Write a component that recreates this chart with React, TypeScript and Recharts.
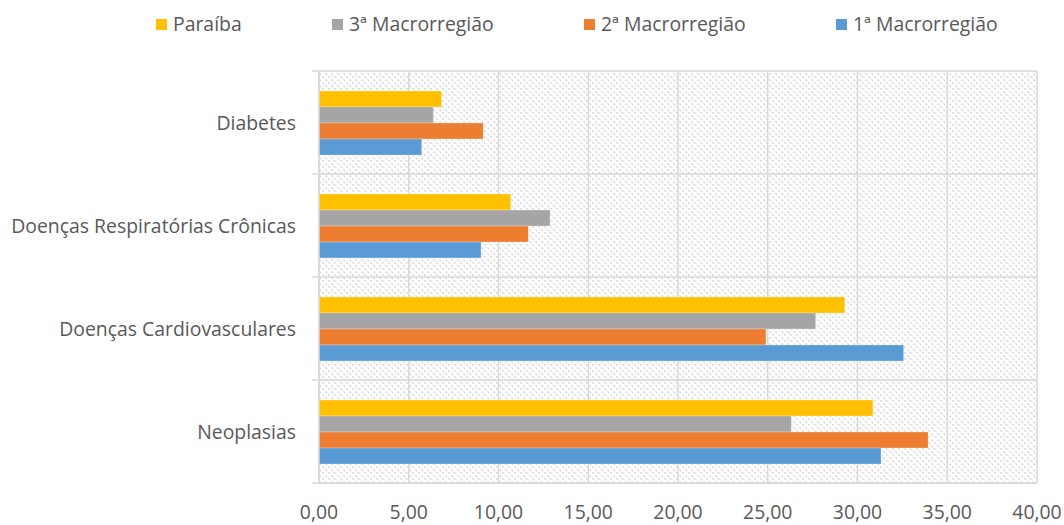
import React from 'react';
import { BarChart, Bar, XAxis, YAxis, CartesianGrid } from 'recharts';

const categories = ['Diabetes', 'Doenças Respiratórias Crônicas', 'Doenças Cardiovasculares', 'Neoplasias'];
const paraiba = [6.83, 10.68, 29.29, 30.86];
const macro3 = [6.37, 12.87, 27.67, 26.31];
const macro2 = [9.15, 11.66, 24.9, 33.93];
const macro1 = [5.72, 9.03, 32.57, 31.31];
const xTicks = [0, 5, 10, 15, 20, 25, 30, 35, 40];

const seriesNames = ['Paraíba', '3ª Macrorregião', '2ª Macrorregião', '1ª Macrorregião'];
const seriesKeys = ['paraiba', 'macro3', 'macro2', 'macro1'];
const seriesColors = ['#FFC000', '#A5A5A5', '#ED7D31', '#5B9BD5'];
const legendItemWidths = [176, 252, 252, 180];

const data = categories.map((name, i) => ({
  name,
  paraiba: paraiba[i],
  macro3: macro3[i],
  macro2: macro2[i],
  macro1: macro1[i],
}));

const W = 1064;
const H = 525;
const M = { top: 71, right: 27, left: 0, bottom: 0 };
const X_AXIS_H = 42;
const Y_AXIS_W = 319;
const PLOT_H = H - M.top - M.bottom - X_AXIS_H;
const BAND = PLOT_H / categories.length;
const FONT = '"Open Sans", sans-serif';
const FS = 19.4;
const TEXT = '#595959';
const GRID = '#D9D9D9';

const fmt = (v: number) => v.toFixed(2).replace('.', ',');

const YTick = (props: any) => {
  const { x, y, payload, index } = props;
  return (
    <g>
      <text x={x} y={y} textAnchor="end" dominantBaseline="central" fill={TEXT} fontSize={FS} fontFamily={FONT}>
        {payload.value}
      </text>
      <line x1={x + 16} x2={x + 23} y1={y - BAND / 2} y2={y - BAND / 2} stroke={GRID} strokeWidth={1.5} />
      {index === categories.length - 1 && (
        <line x1={x + 16} x2={x + 23} y1={y + BAND / 2} y2={y + BAND / 2} stroke={GRID} strokeWidth={1.5} />
      )}
    </g>
  );
};

const XTick = (props: any) => {
  const { x, y, payload } = props;
  return (
    <text x={x} y={y + 1} textAnchor="middle" dominantBaseline="central" fill={TEXT} fontSize={FS} fontFamily={FONT}>
      {fmt(payload.value)}
    </text>
  );
};

const LegendBox = () => (
  <div
    style={{
      position: 'absolute',
      left: 156,
      top: 12,
      display: 'flex',
      alignItems: 'center',
      fontFamily: FONT,
      fontSize: FS,
      color: TEXT,
      whiteSpace: 'nowrap',
      zIndex: 2,
    }}
  >
    {seriesNames.map((n, i) => (
      <div key={n} style={{ display: 'flex', alignItems: 'center', width: legendItemWidths[i] }}>
        <span style={{ display: 'inline-block', width: 11, height: 11, background: seriesColors[i], marginRight: 6 }} />
        <span style={{ lineHeight: '24px' }}>{n}</span>
      </div>
    ))}
  </div>
);

export default function App() {
  return (
    <div style={{ position: 'absolute', left: 0, top: 0, width: W, height: H, background: '#fff' }}>
      <LegendBox />
      <BarChart width={W} height={H} data={data} layout="vertical" margin={M} barGap={0}>
        <defs>
          <pattern id="hatch" patternUnits="userSpaceOnUse" width="6" height="6">
            <rect x="0" y="0" width="6" height="6" fill="#ffffff" />
            <path d="M-1,-1 L7,7" stroke="#cfcfcf" strokeWidth="1.2" strokeDasharray="2 1.6" />
            <path d="M-1,5 L1,7" stroke="#cfcfcf" strokeWidth="1.2" />
          </pattern>
        </defs>
        <CartesianGrid
          stroke={GRID}
          strokeWidth={1.5}
          fill="url(#hatch)"
          fillOpacity={1}
          horizontalCoordinatesGenerator={({ offset }: any) =>
            categories.map((_, i) => offset.top + (i * offset.height) / categories.length).concat([offset.top + offset.height])
          }
        />
        <XAxis
          type="number"
          domain={[0, 40]}
          ticks={xTicks}
          interval={0}
          height={X_AXIS_H}
          axisLine={{ stroke: GRID, strokeWidth: 1.5 }}
          tickLine={false}
          tickSize={0}
          tickMargin={27}
          tick={<XTick />}
        />
        <YAxis
          type="category"
          dataKey="name"
          width={Y_AXIS_W}
          axisLine={{ stroke: GRID, strokeWidth: 1.5 }}
          tickLine={false}
          tickSize={7}
          tickMargin={16}
          interval={0}
          tick={<YTick />}
        />
        {seriesKeys.map((k, i) => (
          <Bar
            key={k}
            dataKey={k}
            name={seriesNames[i]}
            fill={seriesColors[i]}
            barSize={16}
            stroke="#ffffff"
            strokeOpacity={0.35}
            strokeWidth={0.75}
            isAnimationActive={false}
          />
        ))}
      </BarChart>
    </div>
  );
}
